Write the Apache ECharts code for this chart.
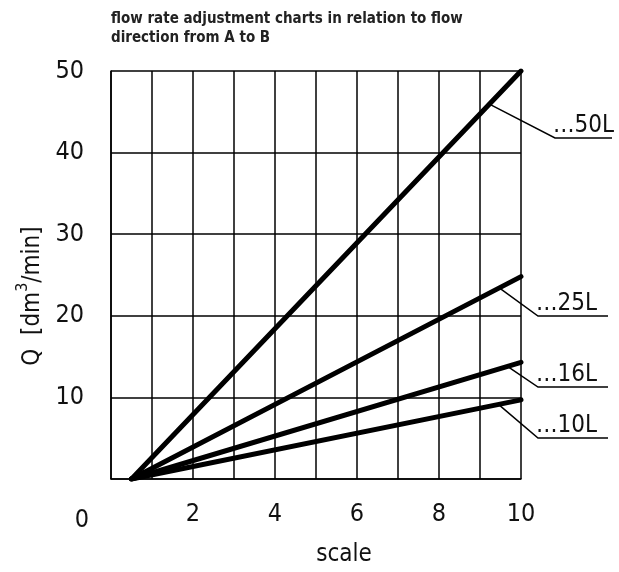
<!DOCTYPE html>
<html>
<head>
<meta charset="utf-8">
<script src="https://cdn.jsdelivr.net/npm/echarts@6/dist/echarts.min.js"></script>
<style>
html,body{margin:0;padding:0;background:#fff;}
#chart{width:619px;height:572px;}
</style>
</head>
<body>
<div id="chart"></div>
<script>
// ---- data ----
const seriesNames = ['…50L', '…25L', '…16L', '…10L'];
const startScale = 0.5;           // all lines start at scale 0.5, Q = 0
const endScale = 10;
const endFlow = [50, 24.8, 14.3, 9.7];   // Q at scale 10
const leaderScale = [9.23, 9.47, 9.67, 9.45]; // where each leader touches its line
const xTicks = [0, 2, 4, 6, 8, 10];
const yTicks = [10, 20, 30, 40, 50];

// ---- layout (pixels for annotation elbows) ----
const elbows = [[555, 138], [538, 316], [538, 387], [538, 438]];
const leaderEnds = [612, 608, 608, 608];

const FONT = '"DejaVu Sans Condensed", "DejaVu Sans", sans-serif';

const chart = echarts.init(document.getElementById('chart'), null, {renderer: 'canvas'});

const series = seriesNames.map((n, i) => ({
  name: n,
  type: 'line',
  data: [[startScale, 0], [endScale, endFlow[i]]],
  symbol: 'none',
  lineStyle: {color: '#000', width: 5, cap: 'round'},
  z: 5,
  silent: true
}));

chart.setOption({
  animation: false,
  backgroundColor: '#fff',
  title: {
    text: 'flow rate adjustment charts in relation to flow\ndirection from A to B',
    left: 111, top: 10, padding: 0,
    textStyle: {fontFamily: FONT, fontWeight: 'bold', fontSize: 15, lineHeight: 19, color: '#222'}
  },
  grid: {left: 111, right: 98, top: 71, bottom: 91, containLabel: false},
  xAxis: {
    type: 'value', min: 0, max: 10, interval: 1,
    axisLine: {show: true, lineStyle: {color: '#000', width: 1.5}},
    axisTick: {show: false},
    splitLine: {show: true, lineStyle: {color: '#000', width: 1.5}},
    axisLabel: {
      margin: 23,
      fontFamily: FONT, fontSize: 25, color: '#111',
      formatter: v => xTicks.indexOf(v) < 0 ? '' : (v === 0 ? '{z|0}' : String(v)),
      rich: {z: {fontFamily: FONT, fontSize: 25, color: '#111', padding: [6, 58, 0, 0]}}
    },
    name: 'scale', nameLocation: 'middle', nameGap: 64,
    nameTextStyle: {fontFamily: FONT, fontSize: 24, color: '#111', padding: [0, 0, 0, 56]}
  },
  yAxis: {
    type: 'value', min: 0, max: 50, interval: 10,
    axisLine: {show: true, lineStyle: {color: '#000', width: 1.5}},
    axisTick: {show: false},
    splitLine: {show: true, lineStyle: {color: '#000', width: 1.5}},
    axisLabel: {
      margin: 27, fontFamily: FONT, fontSize: 25, color: '#111',
      formatter: v => yTicks.indexOf(v) < 0 ? '' : String(v)
    }
  },
  series: series
});

// leader lines + labels, y-axis title
const graphics = [{
  type: 'text', silent: true,
  x: 30, y: 296, rotation: Math.PI / 2,
  style: {
    text: '{m|Q  [dm}{s|3}{m|/min]}',
    textAlign: 'center', textVerticalAlign: 'middle',
    rich: {
      m: {fontFamily: FONT, fontSize: 24, lineHeight: 30, fill: '#111', color: '#111', verticalAlign: 'bottom'},
      s: {fontFamily: FONT, fontSize: 16, lineHeight: 30, fill: '#111', color: '#111', verticalAlign: 'top'}
    }
  }
}];
seriesNames.forEach((n, i) => {
  const y = endFlow[i] * (leaderScale[i] - startScale) / (endScale - startScale);
  const p = chart.convertToPixel({gridIndex: 0}, [leaderScale[i], y]);
  const e = elbows[i];
  graphics.push({
    type: 'polyline', silent: true, z: 10,
    shape: {points: [p, e, [leaderEnds[i], e[1]]]},
    style: {stroke: '#000', lineWidth: 1.5, fill: null}
  });
  graphics.push({
    type: 'text', silent: true, z: 10,
    x: e[0] - 2, y: e[1],
    style: {text: n, font: '24px ' + FONT, fill: '#111', textAlign: 'left', textVerticalAlign: 'bottom'}
  });
});
chart.setOption({graphic: graphics});
</script>
</body>
</html>
